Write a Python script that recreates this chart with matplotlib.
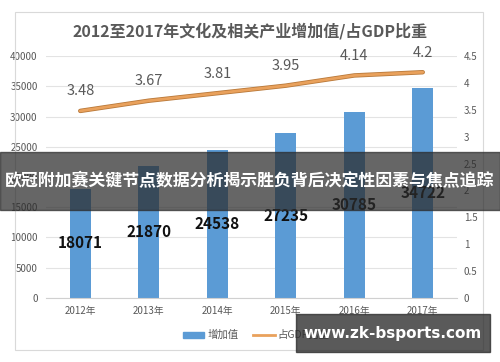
import matplotlib.pyplot as plt
import numpy as np
from matplotlib.patches import Rectangle

plt.rcParams['font.family'] = ['Noto Sans CJK SC', 'DejaVu Sans']

# datos
anios = ['2012年', '2013年', '2014年', '2015年', '2016年', '2017年']
valor_agregado = [18071, 21870, 24538, 27235, 30785, 34722]
porcentaje_pib = [3.48, 3.67, 3.81, 3.95, 4.14, 4.2]

titulo = '2012至2017年文化及相关产业增加值/占GDP比重'
banner = '欧冠附加赛关键节点数据分析揭示胜负背后决定性因素与焦点追踪'
sitio = 'www.zk-bsports.com'

azul = '#5B9BD5'
naranja = '#E9A15C'
gris = '#595959'

fig = plt.figure(figsize=(5, 3.62), dpi=100)
fig.patch.set_facecolor('white')

# marco del grafico
fig.patches.append(Rectangle((0.03, 0.033), 0.936, 0.934, transform=fig.transFigure,
                             fill=False, edgecolor='#D9D9D9', linewidth=0.8))

ax = fig.add_axes([0.092, 0.177, 0.822, 0.668])
x = np.arange(len(anios))
barras = ax.bar(x, valor_agregado, width=0.3, color=azul, zorder=2)
ax.set_xlim(-0.5, len(anios) - 0.5)
ax.set_ylim(0, 40000)
ax.set_yticks(np.arange(0, 40001, 5000))
ax.set_xticks(x)
ax.set_xticklabels(anios, fontsize=7, color=gris)
ax.tick_params(axis='y', labelsize=7, colors=gris, length=0, pad=6)
ax.tick_params(axis='x', length=0, pad=6)
ax.grid(axis='y', color='#E3E3E3', linewidth=0.8, zorder=0)
for s in ['top', 'right', 'left']:
    ax.spines[s].set_visible(False)
ax.spines['bottom'].set_color('#D0D0D0')

for xi, v in zip(x, valor_agregado):
    ax.text(xi, v / 2, str(v), ha='center', va='center', fontsize=11,
            fontweight='bold', color='#111111', zorder=4)

ax2 = ax.twinx()
ax2.set_ylim(0, 4.5)
ax2.set_yticks(np.arange(0, 4.51, 0.5))
ax2.set_yticklabels(['0', '0.5', '1', '1.5', '2', '2.5', '3', '3.5', '4', '4.5'])
ax2.tick_params(axis='y', labelsize=7, colors=gris, length=0, pad=5)
for s in ['top', 'right', 'left', 'bottom']:
    ax2.spines[s].set_visible(False)
ax2.plot(x, porcentaje_pib, color='#B9793A', linewidth=3.2, zorder=3, solid_capstyle='round')
ax2.plot(x, porcentaje_pib, color=naranja, linewidth=2, zorder=3, solid_capstyle='round',
         label='占GDP比重')
for xi, v in zip(x, porcentaje_pib):
    ax2.annotate(f'{v:g}', (xi, v), xytext=(0, 9), textcoords='offset points',
                 ha='center', va='bottom', fontsize=10.5, color=gris)

fig.text(0.5, 0.915, titulo, ha='center', va='center', fontsize=11.5,
         fontweight='bold', color=gris)

# leyenda
fig.patches.append(Rectangle((0.365, 0.066), 0.042, 0.018, transform=fig.transFigure,
                             color=azul))
fig.text(0.415, 0.075, '增加值', ha='left', va='center', fontsize=7.5, color=gris)
fig.lines.append(plt.Line2D([0.505, 0.55], [0.075, 0.075], transform=fig.transFigure,
                            color=naranja, linewidth=2))
fig.text(0.555, 0.075, '占GDP比重', ha='left', va='center', fontsize=7.5, color=gris)

# franja superpuesta
fig.patches.append(Rectangle((0, 0.42), 1, 0.16, transform=fig.transFigure,
                             color='#2B2B2B', alpha=0.72, zorder=10))
fig.text(0.5, 0.5, banner, ha='center', va='center', fontsize=12.2,
         fontweight='bold', color='white', zorder=11)

fig.patches.append(Rectangle((0.592, 0.027), 0.388, 0.105, transform=fig.transFigure,
                             color='#2B2B2B', alpha=0.78, zorder=10))
fig.text(0.786, 0.08, sitio, ha='center', va='center', fontsize=11,
         fontweight='bold', color='white', zorder=11, family='DejaVu Sans')

fig.savefig('out.png', dpi=100)
